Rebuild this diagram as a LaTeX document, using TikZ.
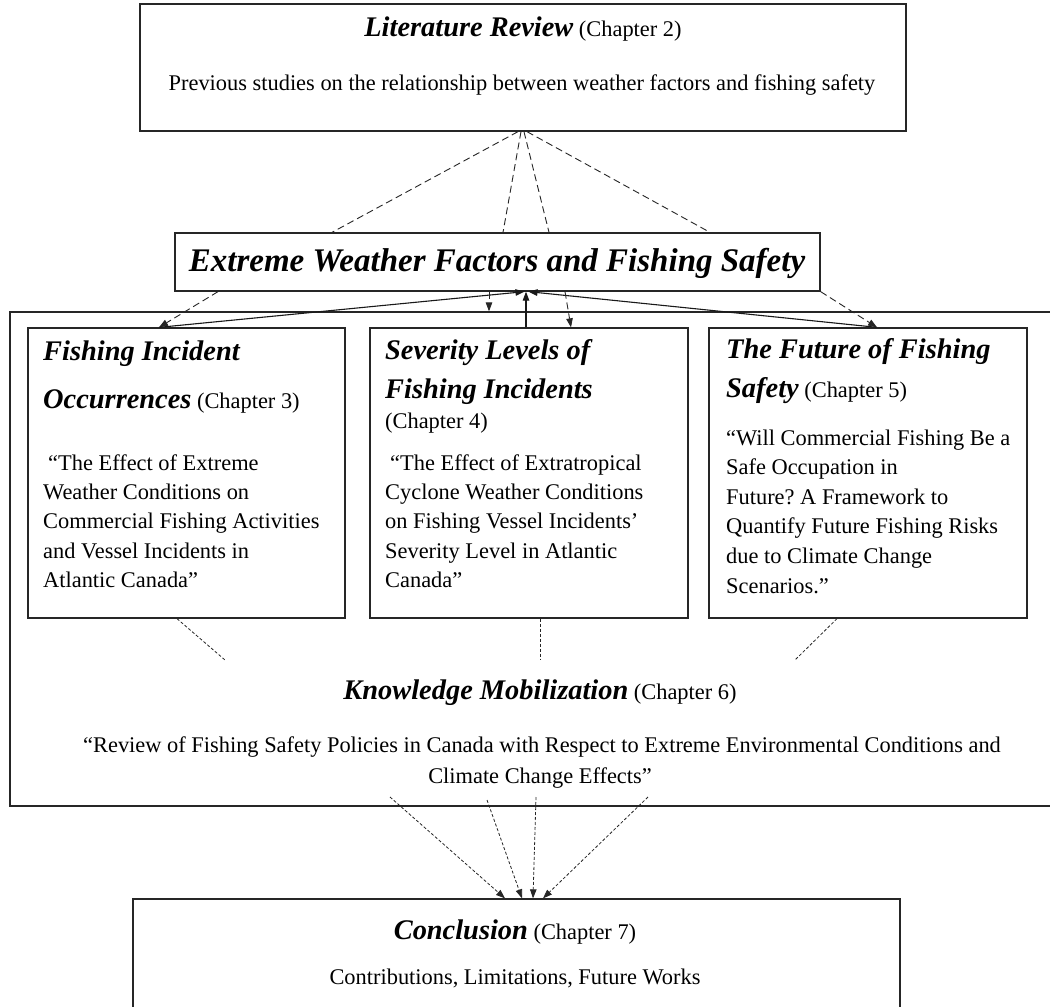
\documentclass[tikz,border=0pt]{standalone}
\usepackage{fontspec}
\setmainfont{Liberation Serif}
\usetikzlibrary{arrows.meta}
\frenchspacing
\newcommand\myBody{\fontsize{22.4}{29.4}\selectfont}
\newcommand\myHead{\fontsize{28.4}{34}\selectfont\bfseries\itshape}
\newcommand\myBig{\fontsize{33}{40}\selectfont\bfseries\itshape}
\tikzset{
  box/.style={draw=black!85, line width=1.3pt, inner sep=0pt},
  ltxt/.style={inner sep=0pt, anchor=base west, font=\myBody, text=black},
  ctxt/.style={inner sep=0pt, anchor=base, font=\myBody, text=black},
  longdash/.style={draw=black!85, line width=0.9pt, dash pattern=on 7pt off 4pt},
  finedash/.style={draw=black!85, line width=0.8pt, dash pattern=on 3pt off 2pt},
  solidcon/.style={draw=black!90, line width=1.1pt},
  tip/.style={-{Triangle[length=9pt,width=6.5pt]}}
}
\begin{document}
\begin{tikzpicture}[x=1pt,y=-1pt]
\useasboundingbox (0,0) rectangle (1050,1007);
\fill[white] (0,0) rectangle (1050,1007);

% boxes
\node[box, minimum width=1050pt, minimum height=494pt] (km) at (535,559) {};
\node[box, minimum width=766pt, minimum height=127pt] (lit) at (523,67.5) {};
\node[box, minimum width=645pt, minimum height=58pt] (ewf) at (497.5,262) {};
\node[box, minimum width=317pt, minimum height=290pt] (occ) at (186.5,473) {};
\node[box, minimum width=318pt, minimum height=290pt] (sev) at (529,473) {};
\node[box, minimum width=318pt, minimum height=290pt] (fut) at (868,473) {};
\node[box, minimum width=767pt, minimum height=131pt] (con) at (516.5,964.5) {};

% texts: literature review
\node[ctxt] (litT) at (523,36) {{\myHead Literature Review} (Chapter 2)};
\node[ctxt] (litB) at (522,90) {Previous studies on the relationship between weather factors and fishing safety};

% main title
\node[ctxt, font=\myBig] (ewfT) at (497,271) {Extreme Weather Factors and Fishing Safety};

% left box
\node[ltxt, font=\myHead] (occH1) at (43,360) {Fishing Incident};
\node[ltxt] (occH2) at (43,408) {{\myHead Occurrences} (Chapter 3)};
\foreach \t [count=\i] in {{“The Effect of Extreme},{Weather Conditions on},{Commercial Fishing Activities},{and Vessel Incidents in},{Atlantic Canada”}}
  \node[ltxt] (occB\i) at ({\i==1 ? 48 : 43},{470+29.4*(\i-1)}) {\t};

% middle box
\node[ltxt, font=\myHead] (sevH1) at (385,359) {Severity Levels of};
\node[ltxt, font=\myHead] (sevH2) at (385,398) {Fishing Incidents};
\node[ltxt] (sevH3) at (385,428) {(Chapter 4)};
\foreach \t [count=\i] in {{“The Effect of Extratropical},{Cyclone Weather Conditions},{on Fishing Vessel Incidents’},{Severity Level in Atlantic},{Canada”}}
  \node[ltxt] (sevB\i) at ({\i==1 ? 390 : 385},{470+29.4*(\i-1)}) {\t};

% right box
\node[ltxt, font=\myHead] (futH1) at (726,358) {The Future of Fishing};
\node[ltxt] (futH2) at (726,397) {{\myHead Safety} (Chapter 5)};
\foreach \t [count=\i] in {{“Will Commercial Fishing Be a},{Safe Occupation in},{Future? A Framework to},{Quantify Future Fishing Risks},{due to Climate Change},{Scenarios.”}}
  \node[ltxt] (futB\i) at (726,{445+29.6*(\i-1)}) {\t};

% knowledge mobilization
\node[ctxt] (kmT) at (540,699) {{\myHead Knowledge Mobilization} (Chapter 6)};
\node[ctxt] (kmB1) at (542,752) {“Review of Fishing Safety Policies in Canada with Respect to Extreme Environmental Conditions and};
\node[ctxt] (kmB2) at (540,783) {Climate Change Effects”};

% conclusion
\node[ctxt] (conT) at (515,939) {{\myHead Conclusion} (Chapter 7)};
\node[ctxt] (conB) at (515,984) {Contributions, Limitations, Future Works};

% literature review -> extreme weather
\draw[longdash] ([xshift=-5pt]lit.south) -- ([xshift=-165.5pt]ewf.north);
\draw[longdash] ([xshift=-2pt]lit.south) -- ([xshift=5.5pt]ewf.north);
\draw[longdash] ([xshift=1pt]lit.south) -- ([xshift=51.5pt]ewf.north);
\draw[longdash] ([xshift=4pt]lit.south) -- ([xshift=212.5pt]ewf.north);

% extreme weather <-> chapter boxes
\draw[longdash, tip] ([xshift=-279.5pt]ewf.south) -- ([xshift=-27.5pt]occ.north);
\draw[solidcon, tip] ([xshift=-27.5pt]occ.north) -- ([xshift=27pt]ewf.south);
\draw[solidcon, tip] ([xshift=-3pt]sev.north) -- ([xshift=28.5pt]ewf.south);
\draw[solidcon, tip] ([xshift=9pt]fut.north) -- ([xshift=31pt]ewf.south);
\coordinate (e1) at ([xshift=-8.5pt]ewf.south);
\draw[longdash, tip] (e1) -- (e1 |- km.north);
\draw[longdash, tip] ([xshift=67.5pt]ewf.south) -- ([xshift=42pt]sev.north);
\draw[longdash, tip] (ewf.south east) -- ([xshift=9pt]fut.north);

% chapter boxes -> knowledge mobilization
\coordinate (k1) at (225,660);
\coordinate (k2) at (540,660);
\coordinate (k3) at (795,660);
\draw[finedash] ([xshift=-9.5pt]occ.south) -- (k1);
\draw[finedash] ([xshift=11pt]sev.south) -- (k2);
\draw[finedash] ([xshift=-31pt]fut.south) -- (k3);

% knowledge mobilization -> conclusion
\coordinate (b1) at (390,797);
\coordinate (b2) at (487,800);
\coordinate (b3) at (536,797);
\coordinate (b4) at (648,797);
\draw[finedash, tip] (b1) -- ([xshift=-11.5pt]con.north);
\draw[finedash, tip] (b2) -- ([xshift=5.5pt]con.north);
\draw[finedash, tip] (b3) -- ([xshift=16.5pt]con.north);
\draw[finedash, tip] (b4) -- ([xshift=26.5pt]con.north);
\end{tikzpicture}
\end{document}
